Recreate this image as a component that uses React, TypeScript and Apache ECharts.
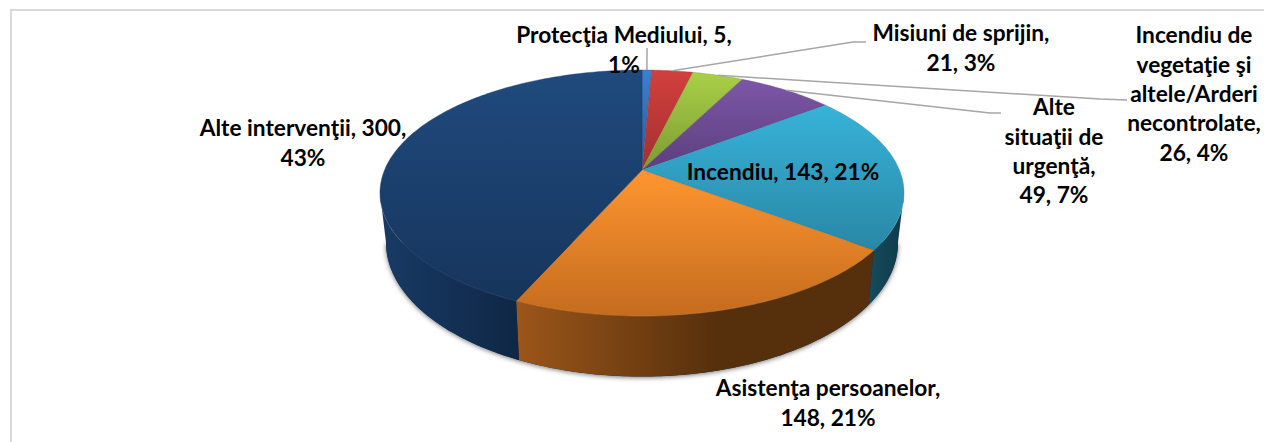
import React, { useEffect, useRef } from "react";
import * as echarts from "echarts";

const categories = [
  "Protecţia Mediului",
  "Misiuni de sprijin",
  "Incendiu de vegetaţie şi altele/Arderi necontrolate",
  "Alte situaţii de urgenţă",
  "Incendiu",
  "Asistenţa persoanelor",
  "Alte intervenţii",
];
const values = [5, 21, 26, 49, 143, 148, 300];

// Line breaks of the labels; the last line(s) are completed from the values.
const labelHeads = [
  ["Protecţia Mediului, {v},", "{p}"],
  ["Misiuni de sprijin,", "{v}, {p}"],
  ["Incendiu de", "vegetaţie şi", "altele/Arderi", "necontrolate,", "{v}, {p}"],
  ["Alte", "situaţii de", "urgenţă,", "{v}, {p}"],
  ["Incendiu, {v}, {p}"],
  ["Asistenţa persoanelor,", "{v}, {p}"],
  ["Alte intervenţii, {v},", "{p}"],
];

// Styling and layout, per slice
const topColors = [
  ["#3d80ce", "#2a5c98", 70, 170],
  ["#d2403d", "#a13030", 70, 170],
  ["#a9d048", "#7c9a32", 72, 170],
  ["#7d57a8", "#5b3f7e", 78, 170],
  ["#37b3d9", "#2987a6", 105, 250],
  ["#ff9530", "#c46c1e", 170, 316],
  ["#204a7e", "#16355c", 70, 300],
];
const wallColors = [
  ["#2a5c98", "#2a5c98"],
  ["#a13030", "#a13030"],
  ["#7c9a32", "#7c9a32"],
  ["#5b3f7e", "#5b3f7e"],
  ["#154c5e", "#103a48"],
  ["#9c5619", "#56300c"],
  ["#183a65", "#0f2745"],
];
const labelLayout = [
  { x: 624, y: 20, leader: [[647, 48]] },
  { x: 961, y: 18, leader: [[853, 42], [866, 42]] },
  { x: 1194, y: 20, leader: [[1100, 99], [1127, 100]] },
  { x: 1054, y: 92, leader: [[990, 113], [1001, 113]] },
  { x: 783, y: 157, leader: null },
  { x: 828, y: 373, leader: null },
  { x: 303, y: 113, leader: null },
];

const CX = 642;
const CY = 170;
const K = 0.187;
const R = 257.4;
const S = 118.7;
const BOTTOM_SX = 0.977;
const BOTTOM_SY = 1.09;
const BOTTOM_CY = 217.4;
const LINE_H = 29.4;

const total = values.reduce((a, b) => a + b, 0);
const cum: number[] = [];
values.reduce((acc, v, i) => ((cum[i] = acc), acc + v), 0);

const angle = (c: number) => (c / total) * 2 * Math.PI;

function rim(theta: number, bottom = false): number[] {
  const u = Math.sin(theta);
  const v = -Math.cos(theta);
  const d = 1 - K * v;
  const px = (R * u) / d;
  const py = (S * v) / d;
  return bottom
    ? [CX + px * BOTTOM_SX, BOTTOM_CY + py * BOTTOM_SY]
    : [CX + px, CY + py];
}

function arc(a0: number, a1: number, bottom = false): number[][] {
  const n = Math.max(2, Math.ceil(Math.abs(a1 - a0) / (Math.PI / 180)));
  const pts: number[][] = [];
  for (let i = 0; i <= n; i++) pts.push(rim(a0 + ((a1 - a0) * i) / n, bottom));
  return pts;
}

const VIS0 = Math.acos(-K);
const VIS1 = 2 * Math.PI - VIS0;

function renderSlice(params: any, api: any) {
  const i = params.dataIndex;
  const a0 = angle(cum[i]);
  const a1 = angle(cum[i] + api.value(0));
  const children: any[] = [];

  if (i === 0) {
    children.push({
      type: "polygon",
      shape: { points: arc(VIS0, VIS1, true) },
      style: {
        fill: "#0f2745",
        shadowBlur: 5,
        shadowColor: "rgba(0,0,0,0.55)",
        shadowOffsetX: 0,
        shadowOffsetY: 1,
      },
    });
  }

  const w0 = Math.max(a0, VIS0);
  const w1 = Math.min(a1, VIS1);
  if (w1 > w0) {
    const top = arc(w0, w1);
    const bot = arc(w1, w0, true);
    const xs = top.concat(bot).map((p) => p[0]);
    children.push({
      type: "polygon",
      shape: { points: top.concat(bot) },
      style: {
        fill: {
          type: "linear",
          global: true,
          x: Math.min(...xs),
          y: 0,
          x2: i === 5 ? Math.min(...xs) + 200 : Math.max(...xs),
          y2: 0,
          colorStops: [
            { offset: 0, color: wallColors[i][0] },
            { offset: 1, color: wallColors[i][1] },
          ],
        },
        stroke: "none",
      },
    });
  }

  const [c0, c1, y0, y1] = topColors[i] as [string, string, number, number];
  children.push({
    type: "polygon",
    shape: { points: [[CX, CY], ...arc(a0, a1)] },
    style: {
      fill: {
        type: "linear",
        global: true,
        x: 0,
        y: y0,
        x2: 0,
        y2: y1,
        colorStops: [
          { offset: 0, color: c0 },
          { offset: 1, color: c1 },
        ],
      },
      stroke: c1,
      lineWidth: 0.4,
    },
  });

  if (w1 > w0) {
    children.push({
      type: "polyline",
      shape: { points: arc(w0, w1) },
      style: { fill: "none", stroke: "rgba(255,255,255,0.08)", lineWidth: 1 },
    });
  }
  return { type: "group", children };
}

function renderLabel(params: any, api: any) {
  const i = params.dataIndex;
  const v = api.value(0);
  const pct = Math.round((v / total) * 100) + "%";
  const text = labelHeads[i]
    .map((l) => l.replace("{v}", String(v)).replace("{p}", pct))
    .join("\n");
  const lay = labelLayout[i];
  const children: any[] = [];
  if (lay.leader) {
    const start = rim(angle(cum[i] + v / 2));
    children.push({
      type: "polyline",
      shape: { points: [start, ...lay.leader] },
      style: { fill: "none", stroke: "#a6a6a6", lineWidth: 1.5 },
    });
  }
  children.push({
    type: "text",
    style: {
      text,
      x: lay.x,
      y: lay.y,
      align: "center",
      verticalAlign: "top",
      fill: "#000000",
      fontFamily: "Lato",
      fontWeight: "bold",
      fontSize: 22.7,
      lineHeight: LINE_H,
    },
  });
  return { type: "group", children };
}

export default function App() {
  const ref = useRef<HTMLDivElement>(null);
  useEffect(() => {
    document.body.style.margin = "0";
    const chart = echarts.init(ref.current!, null, { renderer: "svg" });
    const data = values.map((v, i) => ({ name: categories[i], value: [v] }));
    chart.setOption({
      animation: false,
      backgroundColor: "#ffffff",
      graphic: [
        {
          type: "polyline",
          silent: true,
          shape: { points: [[11, 442], [11, 10], [1264, 10]] },
          style: { fill: "none", stroke: "#d9d9d9", lineWidth: 2 },
        },
      ],
      series: [
        {
          type: "custom",
          coordinateSystem: "none",
          silent: true,
          z: 2,
          data,
          renderItem: renderSlice,
        },
        {
          type: "custom",
          coordinateSystem: "none",
          silent: true,
          z: 3,
          data,
          renderItem: renderLabel,
        },
      ],
    });
    return () => chart.dispose();
  }, []);
  return <div ref={ref} style={{ width: 1264, height: 442 }} />;
}
